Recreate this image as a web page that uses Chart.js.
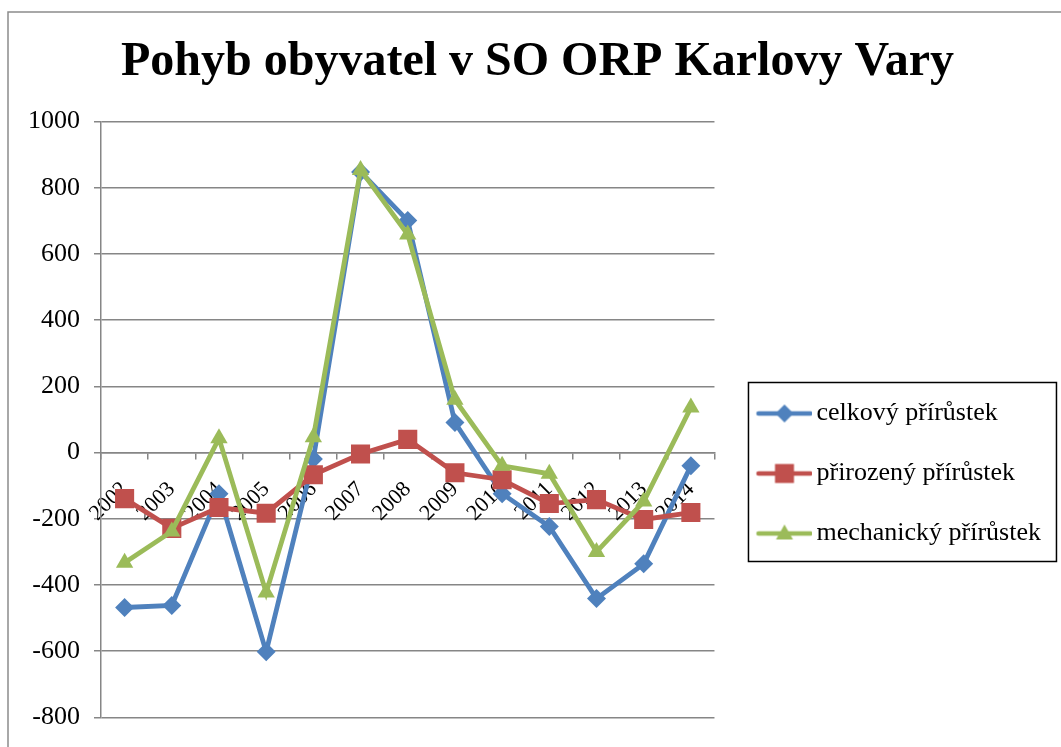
<!DOCTYPE html>
<html>
<head>
<meta charset="utf-8">
<script src="https://cdn.jsdelivr.net/npm/chart.js@4.4.1/dist/chart.umd.min.js"></script>
<style>
  html, body { margin: 0; padding: 0; background: #fff; overflow: hidden; }
  #wrap { width: 1061px; height: 747px; }
</style>
</head>
<body>
<div id="wrap"><canvas id="myChart"></canvas></div>
<script>
// Data
const years = ['2002', '2003', '2004', '2005', '2006', '2007', '2008', '2009', '2010', '2011', '2012', '2013', '2014'];
const celkovy = [-468, -462, -124, -602, -19, 848, 701, 91, -124, -223, -441, -336, -40];
const prirozeny = [-139, -229, -166, -183, -67, -4, 40, -61, -82, -154, -142, -202, -181];
const mechanicky = [-333, -238, 43, -423, 46, 854, 659, 160, -40, -64, -300, -148, 136];
const seriesNames = ['celkový přírůstek', 'přirozený přírůstek', 'mechanický přírůstek'];
const yMin = -800, yMax = 1000, yStep = 200;

const BLUE = '#4F81BD', RED = '#C0504D', GREEN = '#9BBB59';
const GRID = '#868686';
const PAD_L = 24, PAD_R = 10;

Chart.defaults.font.family = '"Liberation Serif", "Times New Roman", serif';
Chart.defaults.font.size = 26;
Chart.defaults.color = '#000';

// legend sample: short line with the marker in the middle
function makeSample(color, style) {
    const c = document.createElement('canvas');
    c.width = 73; c.height = 26;
    const g = c.getContext('2d');
    const cy = 13, cx = 45;
    g.strokeStyle = color;
    g.lineWidth = 4.5;
    g.lineCap = 'round';
    g.beginPath(); g.moveTo(19, cy); g.lineTo(71, cy); g.stroke();
    g.fillStyle = color;
    g.beginPath();
    if (style === 'rectRot') {
        g.moveTo(cx - 9, cy); g.lineTo(cx, cy - 9); g.lineTo(cx + 9, cy); g.lineTo(cx, cy + 9);
    } else if (style === 'rect') {
        g.rect(cx - 9.5, cy - 9.5, 19, 19);
    } else {
        g.moveTo(cx, cy - 9); g.lineTo(cx + 8.5, cy + 6); g.lineTo(cx - 8.5, cy + 6);
    }
    g.closePath(); g.fill();
    return c;
}
const samples = [makeSample(BLUE, 'rectRot'), makeSample(RED, 'rect'), makeSample(GREEN, 'triangle')];

// outer frame of the chart and box round the legend
const framePlugin = {
    id: 'frame',
    beforeDraw(chart) {
        const ctx = chart.ctx;
        ctx.save();
        ctx.strokeStyle = '#8c8c8c';
        ctx.lineWidth = 1.5;
        ctx.beginPath();
        ctx.moveTo(8, chart.height + 5);
        ctx.lineTo(8, 12);
        ctx.lineTo(chart.width + 5, 12);
        ctx.stroke();
        ctx.restore();
    },
    afterDraw(chart) {
        const hb = chart.legend.legendHitBoxes;
        if (!hb || !hb.length) return;
        const ctx = chart.ctx;
        const last = hb[hb.length - 1];
        const x0 = hb[0].left, y0 = hb[0].top - 18;
        const y1 = last.top + last.height + 15;
        ctx.save();
        ctx.strokeStyle = '#000';
        ctx.lineWidth = 1.5;
        ctx.strokeRect(x0, y0, 308, y1 - y0);
        ctx.restore();
    }
};

const ctx = document.getElementById('myChart').getContext('2d');
const myChart = new Chart(ctx, {
    type: 'line',
    data: {
        labels: years,
        datasets: [
            { label: seriesNames[0], data: celkovy, borderColor: BLUE, backgroundColor: BLUE,
              pointStyle: 'rectRot', pointRadius: 9.5, order: 3 },
            { label: seriesNames[1], data: prirozeny, borderColor: RED, backgroundColor: RED,
              pointStyle: 'rect', pointRadius: 13.5, order: 2 },
            { label: seriesNames[2], data: mechanicky, borderColor: GREEN, backgroundColor: GREEN,
              pointStyle: 'triangle', pointRadius: 10, order: 1 }
        ]
    },
    options: {
        responsive: true,
        maintainAspectRatio: false,
        animation: false,
        elements: {
            line: { borderWidth: 4.8, tension: 0 },
            point: { borderWidth: 0, hoverRadius: 10 }
        },
        layout: { padding: { left: PAD_L, right: PAD_R, top: 0, bottom: 24 } },
        plugins: {
            title: {
                display: true,
                text: 'Pohyb obyvatel v SO ORP Karlovy Vary',
                font: { size: 48, weight: 'bold' },
                color: '#000',
                padding: { top: 34, bottom: 30 }
            },
            legend: {
                position: 'right',
                align: 'center',
                maxWidth: 346,
                title: { display: true, text: '', padding: { top: 212, bottom: 0 }, font: { size: 10 } },
                labels: {
                    usePointStyle: true,
                    pointStyleWidth: 55,
                    padding: 34,
                    font: { size: 26 },
                    sort: (a, b) => a.datasetIndex - b.datasetIndex,
                    generateLabels(chart) {
                        const items = Chart.defaults.plugins.legend.labels.generateLabels(chart);
                        items.forEach(it => { it.pointStyle = samples[it.datasetIndex]; });
                        return items;
                    }
                }
            },
            tooltip: { enabled: false }
        },
        scales: {
            x: {
                position: { y: 0 },
                offset: true,
                grid: { drawOnChartArea: false, drawTicks: true, tickLength: 6, offset: true,
                        color: GRID, lineWidth: 1.5 },
                border: { display: true, color: GRID, width: 1.5 },
                ticks: { autoSkip: false, minRotation: 45, maxRotation: 45, padding: 18,
                         font: { size: 22 } }
            },
            y: {
                min: yMin,
                max: yMax,
                ticks: { stepSize: yStep, padding: 14, font: { size: 26 },
                         callback: v => String(v) },
                grid: { color: GRID, lineWidth: 1.5, tickLength: 7 },
                border: { display: true, color: GRID, width: 1.5 },
                afterFit(scale) { scale.width = 101 - PAD_L; }
            }
        }
    },
    plugins: [framePlugin]
});
</script>
</body>
</html>
